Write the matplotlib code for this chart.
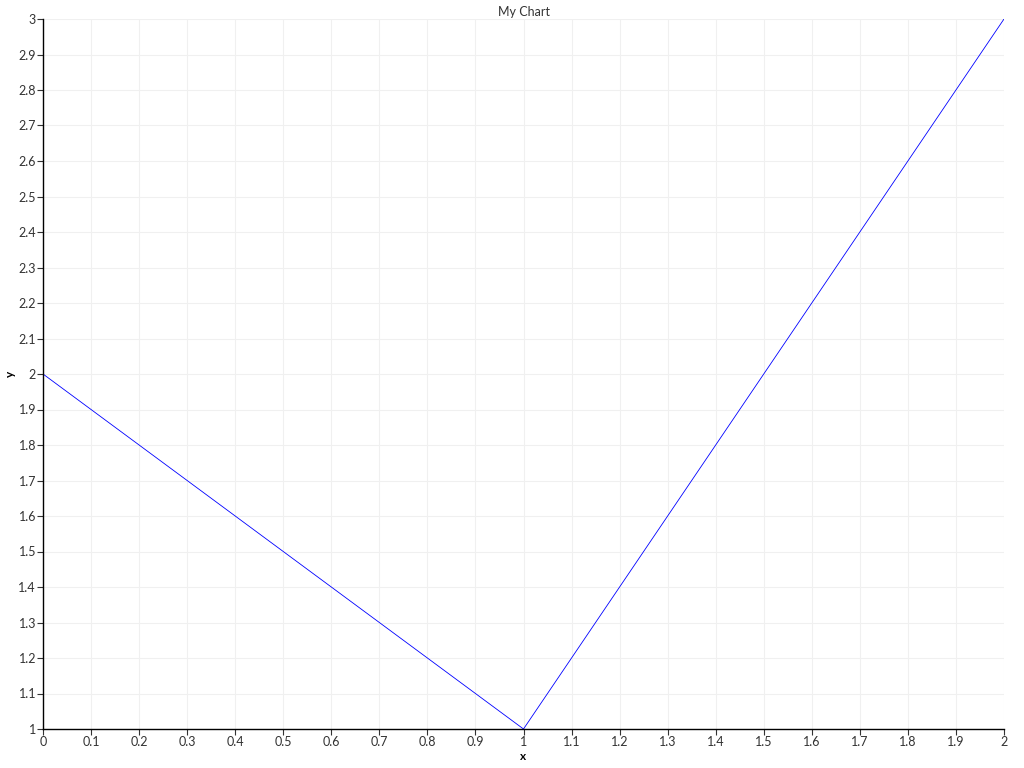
import numpy as np
import matplotlib
matplotlib.use("Agg")
import matplotlib.pyplot as plt

x = [0, 1, 2]
y = [2, 1, 3]
x_ticks = np.round(np.arange(0, 2.01, 0.1), 1)
y_ticks = np.round(np.arange(1, 3.01, 0.1), 1)

plt.rcParams['font.family'] = ['Lato', 'DejaVu Sans']

fig = plt.figure(figsize=(10.24, 7.68), dpi=100)
ax = fig.add_axes([43 / 1024, 39 / 768, 961 / 1024, 710 / 768])

ax.plot(x, y, color='#0000ff', linewidth=0.6)

ax.set_xlim(0, 2)
ax.set_ylim(1, 3)
ax.set_xticks(x_ticks)
ax.set_yticks(y_ticks)
ax.set_xticklabels([f"{v:g}" for v in x_ticks])
ax.set_yticklabels([f"{v:g}" for v in y_ticks])
ax.tick_params(labelsize=9, length=4, width=0.8, color='#333333', labelcolor='#333333', pad=1)
ax.grid(True, color='#f0f0f0', linewidth=0.8)
ax.set_axisbelow(True)

for side in ['top', 'right']:
    ax.spines[side].set_visible(False)
for side in ['left', 'bottom']:
    ax.spines[side].set_linewidth(1.0)
    ax.spines[side].set_color('black')

ax.set_xlabel('x', fontsize=8.5, fontweight='bold', labelpad=2)
ax.set_ylabel('y', fontsize=8.5, fontweight='bold', labelpad=2)
fig.text(524 / 1024, 1 - 12 / 768, 'My Chart', ha='center', va='center', fontsize=9, color='#333333')

fig.savefig('out.png', dpi=100)
